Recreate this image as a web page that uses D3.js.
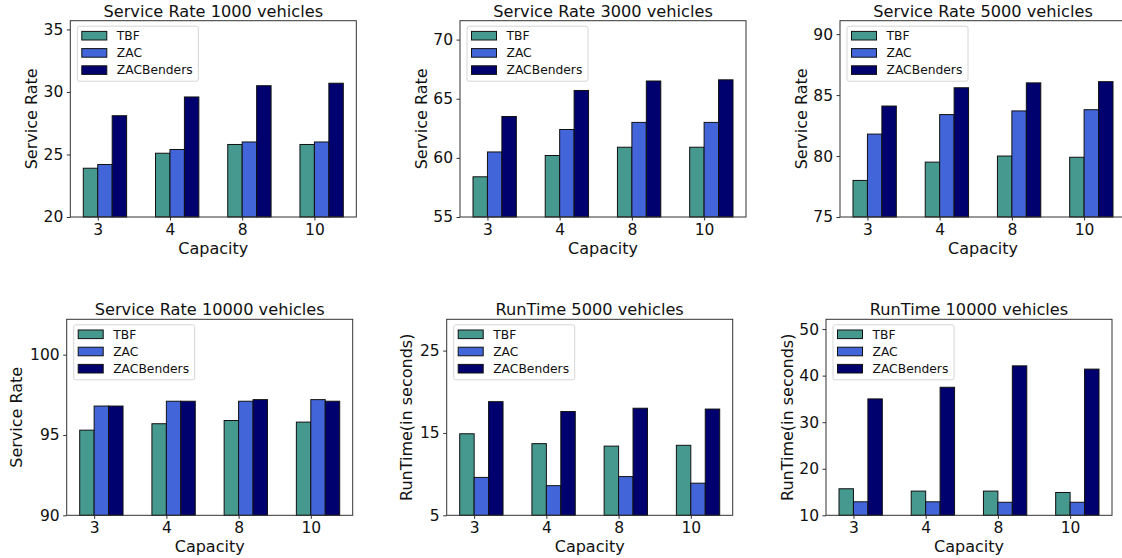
<!DOCTYPE html>
<html>
<head>
<meta charset="utf-8">
<script src="https://cdn.jsdelivr.net/npm/d3@7"></script>
<style>
  html, body { margin: 0; padding: 0; background: #fff; }
  svg { display: block; font-family: "DejaVu Sans", sans-serif; }
</style>
</head>
<body>
<svg id="chart" width="1122" height="558"></svg>
<script>
// ---- data ----
const capacities = ["3", "4", "8", "10"];
const seriesNames = ["TBF", "ZAC", "ZACBenders"];
const seriesColors = ["#46998f", "#4266d9", "#00006e"];

const sr1000TBF = [23.9, 25.1, 25.8, 25.8];
const sr1000ZAC = [24.2, 25.4, 26.0, 26.0];
const sr1000ZACB = [28.1, 29.6, 30.5, 30.7];

const sr3000TBF = [58.4, 60.2, 60.9, 60.9];
const sr3000ZAC = [60.5, 62.4, 63.0, 63.0];
const sr3000ZACB = [63.5, 65.7, 66.5, 66.6];

const sr5000TBF = [78.0, 79.5, 80.0, 79.9];
const sr5000ZAC = [81.8, 83.4, 83.7, 83.8];
const sr5000ZACB = [84.1, 85.6, 86.0, 86.1];

const sr10000TBF = [95.3, 95.7, 95.9, 95.8];
const sr10000ZAC = [96.8, 97.1, 97.1, 97.2];
const sr10000ZACB = [96.8, 97.1, 97.2, 97.1];

const rt5000TBF = [14.9, 13.7, 13.4, 13.5];
const rt5000ZAC = [9.6, 8.6, 9.7, 8.9];
const rt5000ZACB = [18.8, 17.6, 18.0, 17.9];

const rt10000TBF = [15.7, 15.2, 15.2, 14.9];
const rt10000ZAC = [12.9, 12.9, 12.8, 12.8];
const rt10000ZACB = [35.0, 37.5, 42.1, 41.4];

const ticks1000 = [20, 25, 30, 35];
const ticks3000 = [55, 60, 65, 70];
const ticks5000 = [75, 80, 85, 90];
const ticks10000 = [90, 95, 100];
const ticksRt5000 = [5, 15, 25];
const ticksRt10000 = [10, 20, 30, 40, 50];

const titles = ["Service Rate 1000 vehicles", "Service Rate 3000 vehicles", "Service Rate 5000 vehicles",
                "Service Rate 10000 vehicles", "RunTime 5000 vehicles", "RunTime 10000 vehicles"];
const yLabels = ["Service Rate", "Service Rate", "Service Rate", "Service Rate", "RunTime(in seconds)", "RunTime(in seconds)"];
const xLabel = "Capacity";

// ---- panels ----
const panels = [
  { title: titles[0], ylab: yLabels[0], series: [sr1000TBF, sr1000ZAC, sr1000ZACB], ticks: ticks1000, pad: 5, x: 70.3, y: 20.7, w: 286, h: 196.3, ylx: 31.7 },
  { title: titles[1], ylab: yLabels[1], series: [sr3000TBF, sr3000ZAC, sr3000ZACB], ticks: ticks3000, pad: 5, x: 460, y: 20.7, w: 286, h: 196.3, ylx: 421.5 },
  { title: titles[2], ylab: yLabels[2], series: [sr5000TBF, sr5000ZAC, sr5000ZACB], ticks: ticks5000, pad: 5, x: 840, y: 20.7, w: 286, h: 196.3, ylx: 801.5 },
  { title: titles[3], ylab: yLabels[3], series: [sr10000TBF, sr10000ZAC, sr10000ZACB], ticks: ticks10000, pad: 5, x: 66.7, y: 319.3, w: 286, h: 196, ylx: 16.7 },
  { title: titles[4], ylab: yLabels[4], series: [rt5000TBF, rt5000ZAC, rt5000ZACB], ticks: ticksRt5000, pad: 10, x: 446.7, y: 319.3, w: 286, h: 196, ylx: 407.3 },
  { title: titles[5], ylab: yLabels[5], series: [rt10000TBF, rt10000ZAC, rt10000ZACB], ticks: ticksRt10000, pad: 10, x: 826, y: 319.3, w: 286, h: 196, ylx: 788 }
];

const svg = d3.select("#chart");
const barW = 0.2;

panels.forEach(p => {
  const g = svg.append("g").attr("transform", `translate(${p.x},${p.y})`);
  const n = capacities.length;
  const x = d3.scaleLinear().domain([-barW - 0.18, (n - 1) + 2 * barW + 0.18]).range([0, p.w]);
  const maxV = d3.max(p.series.flat());
  const y = d3.scaleLinear().domain([p.ticks[0], maxV + p.pad]).range([p.h, 0]);

  // bars
  p.series.forEach((vals, si) => {
    g.selectAll(null).data(vals).enter().append("rect")
      .attr("x", (d, i) => x(i + (si - 1) * barW))
      .attr("width", x(barW) - x(0))
      .attr("y", d => y(d))
      .attr("height", d => y(p.ticks[0]) - y(d))
      .attr("fill", seriesColors[si])
      .attr("stroke", "#111")
      .attr("stroke-width", 1);
  });

  // frame
  g.append("rect").attr("x", 0).attr("y", 0).attr("width", p.w).attr("height", p.h)
    .attr("fill", "none").attr("stroke", "#333").attr("stroke-width", 1);

  // y axis
  const ya = g.append("g").call(d3.axisLeft(y).tickValues(p.ticks).tickSize(3.5).tickPadding(3.5).tickFormat(d3.format("d")));
  ya.select(".domain").remove();
  ya.selectAll("line").attr("stroke", "#333");
  ya.selectAll("text").attr("font-size", "15.5px").attr("fill", "#111").attr("font-family", "DejaVu Sans");

  // x axis
  const xa = g.append("g").attr("transform", `translate(0,${p.h})`)
    .call(d3.axisBottom(x).tickValues(d3.range(n)).tickSize(3.5).tickPadding(3.5).tickFormat(i => capacities[i]));
  xa.select(".domain").remove();
  xa.selectAll("line").attr("stroke", "#333");
  xa.selectAll("text").attr("font-size", "15.5px").attr("fill", "#111").attr("font-family", "DejaVu Sans");

  // title
  g.append("text").attr("x", p.w / 2).attr("y", -4).attr("text-anchor", "middle")
    .attr("font-size", "16.2px").attr("fill", "#111").text(p.title);

  // x label
  g.append("text").attr("x", p.w / 2).attr("y", p.h + 37).attr("text-anchor", "middle")
    .attr("font-size", "16px").attr("fill", "#111").text(xLabel);

  // y label
  g.append("text").attr("transform", `translate(${p.ylx - p.x + 5},${p.h / 2}) rotate(-90)`)
    .attr("text-anchor", "middle").attr("font-size", "16px").attr("fill", "#111").text(p.ylab);

  // legend
  const lg = g.append("g").attr("transform", "translate(7,5.5)");
  lg.append("rect").attr("x", 0).attr("y", 0).attr("width", 121).attr("height", 55).attr("rx", 2)
    .attr("fill", "#fff").attr("fill-opacity", 0.8).attr("stroke", "#d6d6d6").attr("stroke-width", 1);
  seriesNames.forEach((name, si) => {
    const cy = 9.5 + si * 17.2;
    lg.append("rect").attr("x", 4.5).attr("y", cy - 4.3).attr("width", 25).attr("height", 8.6)
      .attr("fill", seriesColors[si]).attr("stroke", "#111").attr("stroke-width", 1);
    lg.append("text").attr("x", 39.5).attr("y", cy + 4.3).attr("font-size", "12.3px").attr("fill", "#111").text(name);
  });
});
</script>
</body>
</html>
